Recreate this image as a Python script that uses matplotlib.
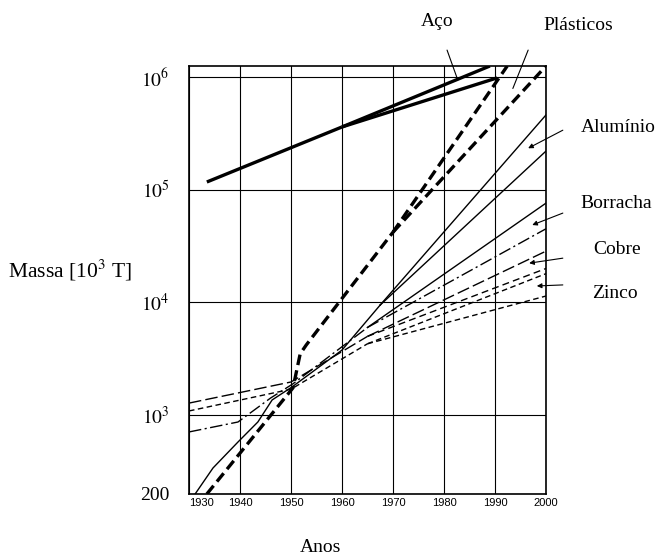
import matplotlib
matplotlib.use("Agg")
import matplotlib.pyplot as plt
import numpy as np

plt.rcParams["font.family"] = ["Liberation Serif", "DejaVu Serif"]
plt.rcParams["mathtext.fontset"] = "stix"

# world consumption, thousands of tonnes per year
steel_years = [1933.5, 1960]
steel_vals = [1.17e5, 3.6e5]
steel_high_years = [1960, 1989]
steel_high_vals = [3.6e5, 1.25e6]
steel_low_years = [1960, 1990.4]
steel_low_vals = [3.6e5, 9.8e5]

plastic_years = [1933.5, 1950.4, 1951.8, 1953, 1970]
plastic_vals = [200, 1750, 3500, 4200, 4.2e4]
plastic_high_years = [1970, 1992.4]
plastic_high_vals = [4.2e4, 1.25e6]
plastic_low_years = [1970, 2000]
plastic_low_vals = [4.2e4, 1.25e6]

alu_years = [1931.2, 1934.7, 1939.6, 1943.5, 1946.3, 1950.2, 1960, 1967.5]
alu_vals = [200, 340, 578, 870, 1365, 1780, 3780, 9500]
alu_high_years = [1967.5, 2000]
alu_high_vals = [9500, 4.6e5]
alu_low_years = [1967.5, 2000]
alu_low_vals = [9500, 2.2e5]

rubber_years = [1930, 1939.6, 1946, 1950.4, 1965]
rubber_vals = [710, 870, 1420, 1900, 6000]
rubber_high_years = [1965, 2000]
rubber_high_vals = [6000, 7.6e4]
rubber_low_years = [1965, 2000]
rubber_low_vals = [6000, 4.5e4]

copper_years = [1930, 1950, 1965]
copper_vals = [1280, 1970, 5000]
copper_high_years = [1965, 2000]
copper_high_vals = [5000, 2.85e4]
copper_low_years = [1965, 2000]
copper_low_vals = [5000, 2.0e4]

zinc_years = [1930, 1950, 1965]
zinc_vals = [1090, 1700, 4300]
zinc_high_years = [1965, 2000]
zinc_high_vals = [4300, 1.8e4]
zinc_low_years = [1965, 2000]
zinc_low_vals = [4300, 1.14e4]

x_ticks = [1930, 1940, 1950, 1960, 1970, 1980, 1990, 2000]
y_ticks = [200, 1e3, 1e4, 1e5, 1e6]
y_tick_labels = ["200", "$10^3$", "$10^4$", "$10^5$", "$10^6$"]

# name, text position (px from top-left), pointer tip and tail (year, value), arrowhead
labels = [
    ("Aço", (437, 22), (1982.7, 9.4e5), (1980.6, 1.73e6), False),
    ("Plásticos", (578, 25), (1993.5, 7.9e5), (1996.5, 1.73e6), False),
    ("Alumínio", (618, 128), (1996.5, 2.33e5), (2003.3, 3.37e5), True),
    ("Borracha", (616, 203), (1997.3, 4.86e4), (2003.3, 6.2e4), True),
    ("Cobre", (617, 250), (1996.7, 2.23e4), (2003.3, 2.47e4), True),
    ("Zinco", (615, 293), (1998.2, 1.40e4), (2003.3, 1.43e4), True),
]

fig = plt.figure(figsize=(6.69, 5.56), dpi=100)
ax = fig.add_axes([189 / 669, 1 - 494 / 556, (546 - 189) / 669, (494 - 66) / 556])
ax.set_yscale("log")
ax.set_xlim(1930, 2000)
ax.set_ylim(200, 1.25e6)

thick = dict(color="black", lw=2.4, solid_capstyle="butt")
thin = dict(color="black", lw=1.0)

ax.plot(steel_years, steel_vals, **thick)
ax.plot(steel_high_years, steel_high_vals, **thick)
ax.plot(steel_low_years, steel_low_vals, **thick)

dash_thick = dict(color="black", lw=2.4, dashes=(3.2, 1.6))
ax.plot(plastic_years, plastic_vals, **dash_thick)
ax.plot(plastic_high_years, plastic_high_vals, **dash_thick)
ax.plot(plastic_low_years, plastic_low_vals, **dash_thick)

ax.plot(alu_years, alu_vals, **thin)
ax.plot(alu_high_years, alu_high_vals, **thin)
ax.plot(alu_low_years, alu_low_vals, **thin)

dashdot = dict(color="black", lw=1.0, dashes=(9, 2.5, 1.5, 2.5))
ax.plot(rubber_years, rubber_vals, **dashdot)
ax.plot(rubber_high_years, rubber_high_vals, **thin)
ax.plot(rubber_low_years, rubber_low_vals, **dashdot)

longdash = dict(color="black", lw=1.0, dashes=(9, 3))
meddash = dict(color="black", lw=1.0, dashes=(5, 3))
ax.plot(copper_years, copper_vals, **longdash)
ax.plot(copper_high_years, copper_high_vals, **longdash)
ax.plot(copper_low_years, copper_low_vals, **meddash)

shortdash = dict(color="black", lw=1.0, dashes=(4, 2.5))
ax.plot(zinc_years, zinc_vals, **shortdash)
ax.plot(zinc_high_years, zinc_high_vals, **shortdash)
ax.plot(zinc_low_years, zinc_low_vals, **shortdash)

ax.set_xticks(x_ticks)
ax.set_yticks(y_ticks)
ax.set_yticklabels(y_tick_labels)
ax.minorticks_off()
ax.grid(True, color="black", lw=0.8)
ax.tick_params(axis="both", length=0)
ax.tick_params(axis="y", labelsize=14, pad=14)
ax.tick_params(axis="x", labelsize=8, pad=3)
for t in ax.get_xticklabels():
    t.set_family(["Liberation Sans", "DejaVu Sans"])
ax.get_xticklabels()[0].set_horizontalalignment("left")
for s in ax.spines.values():
    s.set_linewidth(1.2)

fig.text(8 / 669, 1 - 270 / 556, "Massa [10$^3$ T]", fontsize=15.5, ha="left", va="center")
fig.text(320 / 669, 1 - 548 / 556, "Anos", fontsize=14, ha="center", va="center")

for name, (px, py), tip, tail, head in labels:
    fig.text(px / 669, 1 - py / 556, name, fontsize=14, ha="center", va="center")
    style = "-|>" if head else "-"
    ax.annotate("", xy=tip, xytext=tail, annotation_clip=False,
                arrowprops=dict(arrowstyle=style, color="black", lw=0.8,
                                mutation_scale=7, shrinkA=0, shrinkB=0))

fig.savefig("out.png", dpi=100)
plt.close(fig)
